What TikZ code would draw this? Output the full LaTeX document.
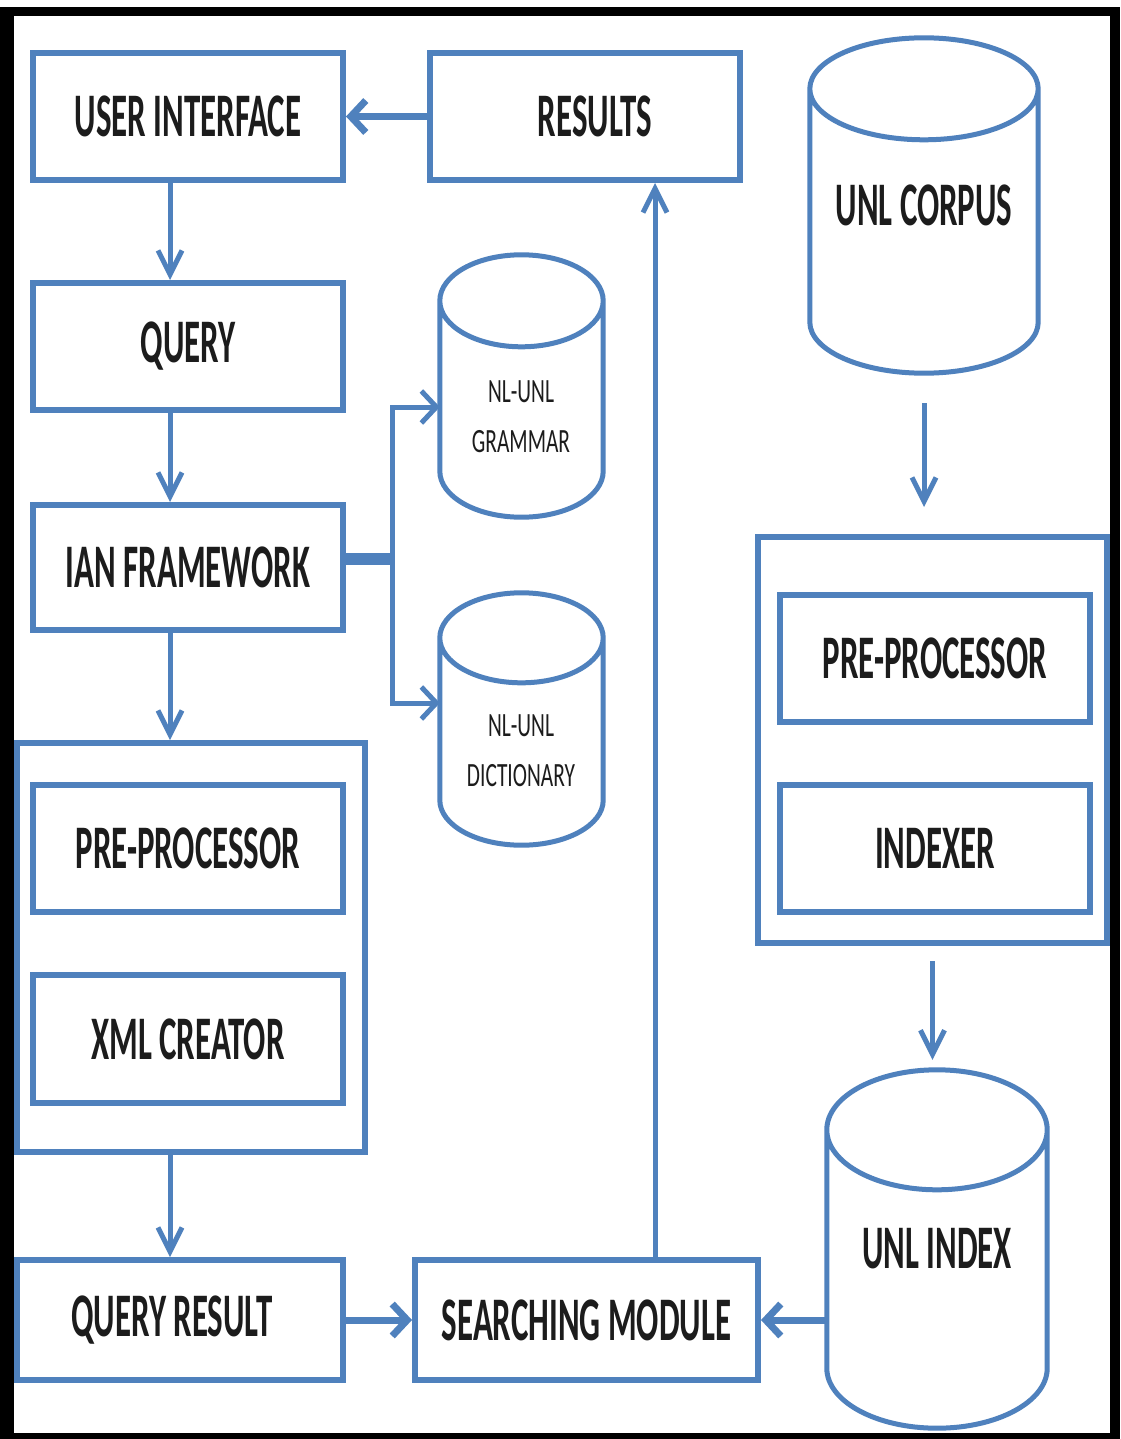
\documentclass[tikz,border=0pt]{standalone}
\usepackage{fontspec}
\usetikzlibrary{arrows.meta,calc}
\definecolor{flowblue}{RGB}{79,129,189}
\definecolor{ink}{RGB}{28,28,28}
\newfontfamily\boxfont[FakeStretch=0.53]{Carlito}
\newfontfamily\dbfont[FakeStretch=0.63]{Carlito}

% database drum drawn around a (borderless) node: #1 node name, #2 radius of the end ellipses
\newcommand\drum[2]{%
  \draw[drumline] let \p1=(#1.north west), \p2=(#1.south east), \n1={(\x2-\x1)/2} in
    (\x1,\y1-#2) -- (\x1,\y2+#2)
    arc[start angle=180, end angle=360, x radius=\n1, y radius=#2]
    -- (\x2,\y1-#2)
    arc[start angle=0, end angle=360, x radius=\n1, y radius=#2];}

\tikzset{
  blk/.style={draw=flowblue, line width=6pt, minimum width=310pt, minimum height=127pt,
    inner sep=0pt, text=ink, font=\boxfont\bfseries\fontsize{62}{62}\selectfont},
  holder/.style={draw=flowblue, line width=6pt, inner sep=0pt},
  drumnode/.style={inner sep=0pt, text=ink, font=\boxfont\bfseries\fontsize{62}{62}\selectfont},
  dbtext/.style={inner sep=0pt, text=ink, align=center, font=\dbfont\fontsize{34}{50}\selectfont},
  drumline/.style={draw=flowblue, line width=5pt},
  vflow/.style={draw=flowblue, line width=5pt, -{Straight Barb[length=24pt,width=24pt]}},
  hflow/.style={draw=flowblue, line width=7pt, -{Straight Barb[length=15pt,width=32pt]}},
  trunk/.style={draw=flowblue, line width=12pt},
}

\begin{document}
\begin{tikzpicture}[x=1pt,y=-1pt]
  \useasboundingbox (0,0) rectangle (1120,1439);
  % black frame round the page
  \fill[black] (0,7) rectangle (1120,1439);
  \fill[white] (14,16) rectangle (1110,1433);

  % left column
  \node[blk] (ui) at (188,116.5) {USER INTERFACE};
  \node[blk] (query) at (188,346.5) {QUERY};
  \node[blk, minimum height=125pt] (ian) at (188,567.5) {IAN FRAMEWORK};
  \node[holder, minimum width=348pt, minimum height=409pt] (lcont) at (191,947.5) {};
  \node[blk] (pre1) at (188,848.5) {PRE-PROCESSOR};
  \node[blk, minimum height=128pt] (xml) at (188,1039) {XML CREATOR};
  \node[blk, minimum width=326pt, minimum height=120pt] (qres) at (180,1320) {QUERY RESULT\hspace*{16pt}};

  % middle column
  \node[blk] (results) at (585,116.5) {\hspace*{20pt}RESULTS};
  \node[blk, minimum width=343pt, minimum height=120pt] (search) at (586.5,1320) {SEARCHING MODULE};
  \node[inner sep=0pt, minimum width=163pt, minimum height=262pt] (gram) at (521.5,386) {};
  \node[inner sep=0pt, minimum width=163pt, minimum height=252pt] (dict) at (521.5,719) {};
  \drum{gram}{46pt}
  \drum{dict}{45pt}
  \node[dbtext] (gramlbl) at (521,417) {NL-UNL\\GRAMMAR};
  \node[dbtext] (dictlbl) at (521,751) {NL-UNL\\DICTIONARY};

  % right column
  \node[drumnode, minimum width=228pt, minimum height=335pt] (corpus) at (924,205.5) {UNL CORPUS};
  \drum{corpus}{51pt}
  \node[holder, minimum width=349pt, minimum height=406pt] (rcont) at (932.5,740) {};
  \node[blk] (pre2) at (935,658.5) {PRE-PROCESSOR};
  \node[blk] (indexer) at (935,848.5) {INDEXER};
  \node[drumnode, minimum width=220pt, minimum height=358pt] (index) at (937,1249) {UNL INDEX};
  \drum{index}{60pt}

  % flow
  \coordinate (lx) at (170,0);
  \coordinate (rx) at (655,0);
  \coordinate (fork) at (392,559);
  \draw[vflow] (ui.south -| lx) -- (query.north -| lx);
  \draw[vflow] (query.south -| lx) -- (ian.north -| lx);
  \draw[vflow] (ian.south -| lx) -- (lcont.north -| lx);
  \draw[vflow] (lcont.south -| lx) -- (qres.north -| lx);
  \draw[hflow] (qres.east) -- (search.west);
  \draw[hflow] (index.west |- search.east) -- (search.east);
  \draw[vflow] (search.north -| rx) -- (results.south -| rx);
  \draw[hflow] (results.west) -- (ui.east);
  \draw[vflow, shorten <=30pt, shorten >=27pt] (corpus.south) -- (corpus.south |- rcont.north);
  \draw[vflow, shorten <=15pt, shorten >=10pt] (rcont.south) -- (rcont.south |- index.north);

  \draw[trunk] (ian.east |- fork) -- (fork);
  \draw[hflow, line width=5pt] (fork) |- ([yshift=-21pt]gram.west);
  \draw[hflow, line width=5pt] (fork) |- ([yshift=16pt]dict.west);
\end{tikzpicture}
\end{document}
